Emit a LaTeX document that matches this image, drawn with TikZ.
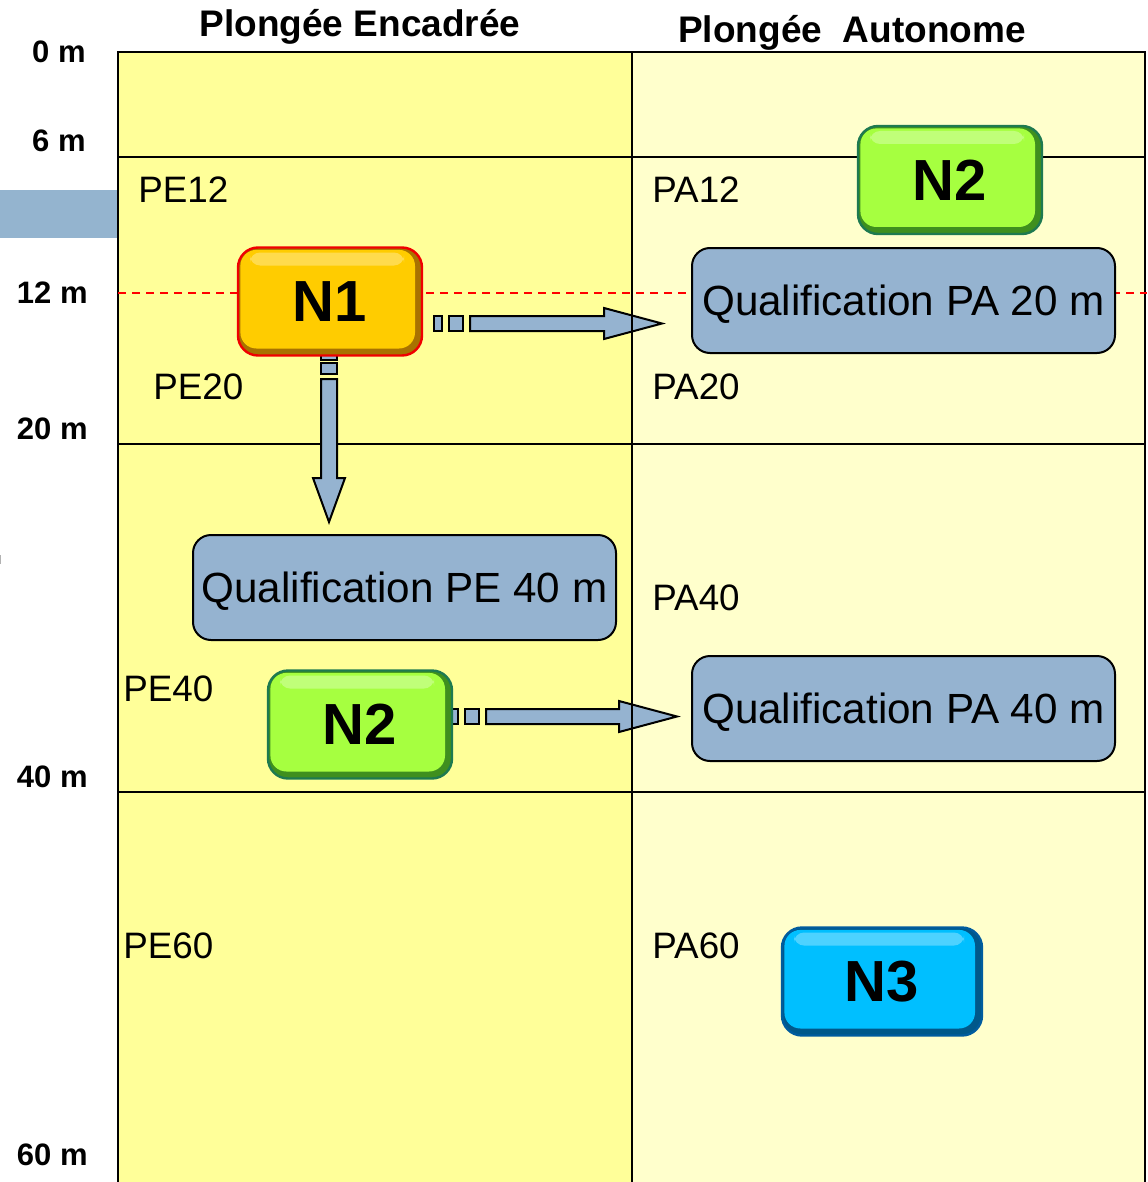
\documentclass[tikz,border=0pt]{standalone}
\usepackage{fontspec}
\setmainfont{Liberation Sans}
\usetikzlibrary{calc}
\definecolor{colL}{HTML}{FFFF99}
\definecolor{colR}{HTML}{FFFFCC}
\definecolor{qblue}{HTML}{95B3D0}
\definecolor{barblue}{HTML}{94B4CF}
\definecolor{n1main}{HTML}{FFCC00}
\definecolor{n1rim}{HTML}{A87200}
\definecolor{n1border}{HTML}{F00000}
\definecolor{n2main}{HTML}{A6FF40}
\definecolor{n2rim}{HTML}{3F8F1E}
\definecolor{n2border}{HTML}{1E7A50}
\definecolor{n3main}{HTML}{00BFFF}
\definecolor{n3rim}{HTML}{00588A}
\definecolor{n3border}{HTML}{005C9E}
\newcommand\fsz[1]{\fontsize{#1}{#1}\selectfont}
\newcommand\harrowshape[2]{%
  \draw[blockarrow] ($(#1)+(0,-7.5)$) rectangle ($(#1)+(8,7.5)$);
  \draw[blockarrow] ($(#1)+(15,-7.5)$) rectangle ($(#1)+(29,7.5)$);
  \draw[blockarrow] ($(#1)+(36,-7.5)$) -- ($(#2)+(-58,-7.5)$) -- ($(#2)+(-58,-15.5)$) -- (#2)
     -- ($(#2)+(-58,15.5)$) -- ($(#2)+(-58,7.5)$) -- ($(#1)+(36,7.5)$) -- cycle;}
\newcommand\varrowshape[2]{%
  \draw[blockarrow] ($(#1)+(-8,0)$) rectangle ($(#1)+(8,8)$);
  \draw[blockarrow] ($(#1)+(-8,11)$) rectangle ($(#1)+(8,22)$);
  \draw[blockarrow] ($(#1)+(-8,27)$) -- ($(#2)+(-8,-44)$) -- ($(#2)+(-16,-44)$) -- (#2)
     -- ($(#2)+(16,-44)$) -- ($(#2)+(8,-44)$) -- ($(#1)+(8,27)$) -- cycle;}
\tikzset{
  depth/.style={anchor=east, inner sep=0pt, font=\bfseries\fsz{15.5pt}},
  colhead/.style={inner sep=0pt, font=\bfseries\fsz{18.5pt}},
  lab/.style={anchor=west, inner sep=0pt, font=\fsz{18.4pt}},
  qual/.style={draw=black, line width=1pt, fill=qblue, rounded corners=9pt,
    minimum width=211.5pt, minimum height=52.5pt, inner sep=0pt, text depth=0pt,
    font=\fsz{21.1pt}},
  gridline/.style={line width=1pt, black},
  blockarrow/.style={draw=black, line width=1pt, fill=qblue},
  lvlbox/.style n args={3}{draw=#1, fill=#2, line width=1.2pt, rounded corners=10pt,
    minimum width=92pt, minimum height=54pt, inner sep=0pt, font=\bfseries\fsz{29pt},
    path picture={
      \fill[#3, rounded corners=8pt] ([shift={(1.2pt,-1.2pt)}]path picture bounding box.north west)
        rectangle ([shift={(-3.5pt,3.5pt)}]path picture bounding box.south east);
      \fill[white, opacity=0.3, rounded corners=5pt] ([shift={(6pt,-2.5pt)}]path picture bounding box.north west)
        rectangle ([shift={(-9pt,-9pt)}]path picture bounding box.north east);
    }},
}
\begin{document}
\begin{tikzpicture}[x=0.5pt, y=-0.5pt]
\useasboundingbox (0,0) rectangle (1147,1182);
% column backgrounds
\fill[colL] (118,52) rectangle (632,1182);
\fill[colR] (632,52) rectangle (1145,1182);
\fill[barblue] (0,190) rectangle (117,238);
\draw[gray!60, line width=0.6pt] (0.5,555) -- (0.5,564);
% horizontal grid lines and frame
\draw[gridline] (118,1182) -- (118,52) -- (1145,52) -- (1145,1182);
\draw[gridline] (118,157) -- (1145,157);
\draw[gridline] (118,444) -- (1145,444);
\draw[gridline] (118,792) -- (1145,792);
% red dashed line at 12 m
\draw[red, line width=0.8pt, dash pattern=on 4pt off 3pt] (118,293) -- (1147,293);
% headers
\node[colhead] (hpe) at (360,27) {Plongée Encadrée};
\node[colhead] (hpa) at (852,33) {Plongée~ Autonome};
% depth labels
\node[depth] (d0) at (86,52) {0 m};
\node[depth] (d6) at (86,141) {6 m};
\node[depth] (d12) at (88,293) {12 m};
\node[depth] (d20) at (88,429) {20 m};
\node[depth] (d40) at (88,777) {40 m};
\node[depth] (d60) at (88,1155) {60 m};
% zone labels
\node[lab] (pe12) at (138,190) {PE12};
\node[lab] (pa12) at (652,190) {PA12};
\node[lab] (pe20) at (153,387) {PE20};
\node[lab] (pa20) at (652,387) {PA20};
\node[lab] (pa40) at (652,598) {PA40};
\node[lab] (pe40) at (123,689) {PE40};
\node[lab] (pe60) at (123,946) {PE60};
\node[lab] (pa60) at (652,946) {PA60};
% qualification boxes
\node[qual] (qpa20) at (903.5,300.5) {Qualification PA 20 m};
\node[qual] (qpe40) at (404.5,587.5) {Qualification PE 40 m};
\node[qual] (qpa40) at (903.5,708.5) {Qualification PA 40 m};
% level box positions (coordinates for arrows)
\coordinate (n1c) at (330,301.5);
\coordinate (n2bc) at (360,724.5);
% arrows
\coordinate (s1) at ($(n1c)+(104,22)$);
\coordinate (t1) at ($(qpa20.west)+(-29,23)$);
\harrowshape{s1}{t1}
\coordinate (s3) at ($(n2bc)+(90,-8)$);
\coordinate (t3) at ($(qpa40.west)+(-14,8)$);
\harrowshape{s3}{t3}
\coordinate (s2) at ($(n1c)+(-1,50.5)$);
\coordinate (t2) at ($(n1c)+(-1,220.5)$);
\varrowshape{s2}{t2}
% column divider above horizontal arrows
\draw[gridline] (632,52) -- (632,1182);
% level boxes
\node[lvlbox={n1border}{n1rim}{n1main}] (n1) at (n1c) {N1};
\node[lvlbox={n2border}{n2rim}{n2main}] (n2a) at (950,180) {N2};
\node[lvlbox={n2border}{n2rim}{n2main}] (n2b) at (n2bc) {N2};
\node[lvlbox={n3border}{n3rim}{n3main}, minimum width=100pt] (n3) at (882,981.5) {N3};
\end{tikzpicture}
\end{document}
